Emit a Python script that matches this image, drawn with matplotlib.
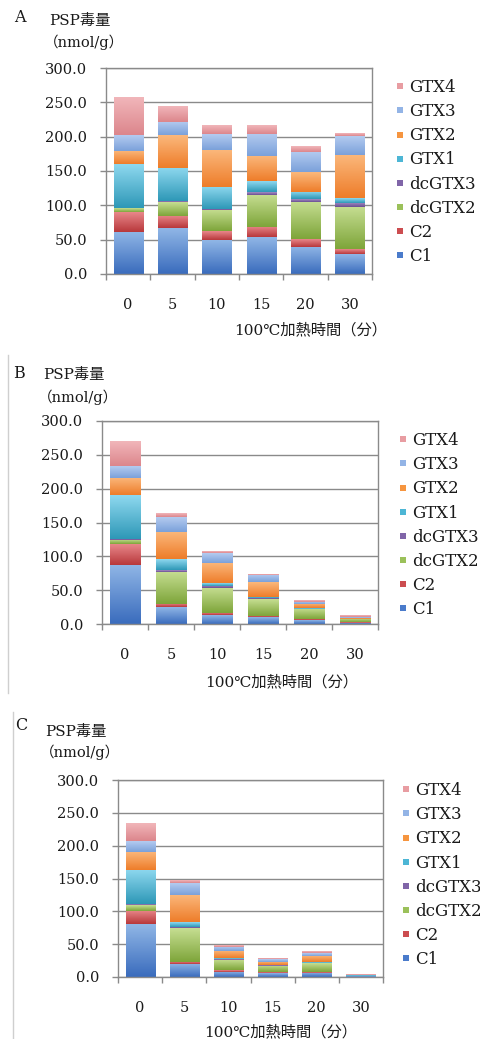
import matplotlib
matplotlib.use("Agg")
import matplotlib.pyplot as plt
import numpy as np
from matplotlib.colors import LinearSegmentedColormap, to_rgb
from matplotlib.lines import Line2D

plt.rcParams["font.family"] = ["DejaVu Serif", "Noto Sans CJK JP"]

# heating time categories (minutes at 100 °C)
times = ["0", "5", "10", "15", "20", "30"]
series = ["C1", "C2", "dcGTX2", "dcGTX3", "GTX1", "GTX2", "GTX3", "GTX4"]
y_ticks = [0, 50, 100, 150, 200, 250, 300]

# toxin amounts (nmol/g) for each component, panel A
a_c1 = [61.6, 66.4, 49.4, 53.3, 40.0, 29.0]
a_c2 = [29.0, 18.4, 12.6, 14.6, 11.0, 7.0]
a_dcgtx2 = [4.9, 19.9, 31.0, 47.1, 54.0, 62.0]
a_dcgtx3 = [1.0, 1.0, 1.5, 3.8, 4.0, 6.0]
a_gtx1 = [63.5, 48.3, 32.5, 16.0, 10.7, 6.5]
a_gtx2 = [19.0, 48.0, 54.0, 37.2, 28.3, 63.0]
a_gtx3 = [23.0, 20.0, 22.6, 32.6, 30.0, 27.5]
a_gtx4 = [54.0, 23.0, 13.1, 12.1, 8.6, 3.5]

# panel B
b_c1 = [87.2, 24.6, 13.3, 10.3, 5.4, 2.0]
b_c2 = [30.5, 5.0, 3.0, 2.0, 1.5, 0.5]
b_dcgtx2 = [6.3, 47.7, 37.4, 25.1, 14.8, 4.5]
b_dcgtx3 = [1.5, 2.5, 3.0, 1.5, 1.0, 0.4]
b_gtx1 = [64.5, 15.8, 3.3, 1.5, 0.5, 0.5]
b_gtx2 = [26.0, 40.9, 29.7, 21.6, 6.4, 1.5]
b_gtx3 = [17.6, 22.1, 14.7, 11.0, 3.4, 0.9]
b_gtx4 = [36.4, 4.9, 2.0, 1.4, 2.0, 2.5]

# panel C
c_c1 = [80.2, 19.8, 8.1, 5.6, 6.6, 1.0]
c_c2 = [19.8, 3.6, 2.1, 1.5, 1.5, 0.3]
c_dcgtx2 = [9.0, 51.2, 15.7, 9.7, 12.7, 0.5]
c_dcgtx3 = [1.5, 2.0, 1.0, 1.0, 1.0, 0.2]
c_gtx1 = [52.5, 6.9, 1.5, 1.0, 1.0, 0.3]
c_gtx2 = [28.0, 41.5, 11.6, 4.6, 9.2, 1.0]
c_gtx3 = [15.6, 17.6, 6.2, 3.5, 4.0, 0.4]
c_gtx4 = [26.4, 3.4, 2.5, 1.5, 2.0, 0.3]

panels = [
    ("A", [a_c1, a_c2, a_dcgtx2, a_dcgtx3, a_gtx1, a_gtx2, a_gtx3, a_gtx4]),
    ("B", [b_c1, b_c2, b_dcgtx2, b_dcgtx3, b_gtx1, b_gtx2, b_gtx3, b_gtx4]),
    ("C", [c_c1, c_c2, c_dcgtx2, c_dcgtx3, c_gtx1, c_gtx2, c_gtx3, c_gtx4]),
]

# (top, bottom) shades for each component's gradient fill
shades = {
    "C1": ("#90b6e6", "#3a6cbd"),
    "C2": ("#e8878a", "#b8383b"),
    "dcGTX2": ("#c6de92", "#7ea53a"),
    "dcGTX3": ("#a48fc4", "#6a4e93"),
    "GTX1": ("#8ed8ef", "#2e98b7"),
    "GTX2": ("#fbb87c", "#ee7d2a"),
    "GTX3": ("#b4cbf0", "#7ba1da"),
    "GTX4": ("#f1b6ba", "#dc868c"),
}
legend_colors = {
    "C1": "#4a7bcb", "C2": "#cc4d50", "dcGTX2": "#9bc15a", "dcGTX3": "#8065a8",
    "GTX1": "#4db6d5", "GTX2": "#f6953f", "GTX3": "#93b4e6", "GTX4": "#e89da2",
}

W, H = 480, 1039
fig = plt.figure(figsize=(W / 100, H / 100), dpi=100)


def fx(px):
    return px / W


def fy(px):
    return 1 - px / H


# layout in pixels: axes box, header, legend, x label
layout = {
    "A": dict(box=(106, 68, 372, 274), letter=(14, 17), head=(49, 21, 44, 42),
              leg=(395, 79), xlab=(311, 330)),
    "B": dict(box=(102, 421, 378, 624), letter=(13, 373), head=(43, 375, 38, 397),
              leg=(398, 432), xlab=(282, 682)),
    "C": dict(box=(118, 780, 383, 977), letter=(15, 725), head=(45, 732, 40, 752),
              leg=(401, 782), xlab=(281, 1032)),
}

grid_gray = "#8a8a8a"
text_color = "#1a1a1a"
xs = np.arange(len(times))

for name, values in panels:
    L = layout[name]
    x0, y0, x1, y1 = L["box"]
    ax = fig.add_axes([fx(x0), fy(y1), (x1 - x0) / W, (y1 - y0) / H])
    ax.set_xlim(-0.5, len(times) - 0.5)
    ax.set_ylim(0, 300)

    bottom = np.zeros(len(times))
    for s, vals in zip(series, values):
        bars = ax.bar(xs, vals, width=0.66, bottom=bottom, color="none",
                      linewidth=0, zorder=2)
        top_c, bot_c = shades[s]
        cmap = LinearSegmentedColormap.from_list(s, [to_rgb(bot_c), to_rgb(top_c)])
        grad = np.linspace(0, 1, 64).reshape(-1, 1)
        for r in bars:
            bx, by, bw, bh = r.get_x(), r.get_y(), r.get_width(), r.get_height()
            ax.imshow(grad, extent=[bx, bx + bw, by, by + bh], origin="lower",
                      cmap=cmap, aspect="auto", zorder=2, interpolation="bilinear")
        bottom = bottom + np.array(vals)
    ax.set_xlim(-0.5, len(times) - 0.5)
    ax.set_ylim(0, 300)
    ax.set_aspect("auto")

    ax.set_yticks(y_ticks)
    ax.set_yticklabels([f"{v:.1f}" for v in y_ticks])
    ax.yaxis.grid(True, color=grid_gray, linewidth=1.0, zorder=0)
    ax.set_axisbelow(True)
    ax.set_xticks(xs)
    ax.set_xticklabels(times)
    ax.set_xticks(np.arange(-0.5, len(times)), minor=True)
    ax.tick_params(axis="x", which="major", length=0, pad=17, labelsize=10.5,
                   labelcolor=text_color)
    ax.tick_params(axis="x", which="minor", length=4, width=1, color=grid_gray,
                   direction="out")
    ax.tick_params(axis="y", length=4.5, width=1, color=grid_gray, pad=9,
                   labelsize=10.5, labelcolor=text_color)
    for sp in ax.spines.values():
        sp.set_color(grid_gray)
        sp.set_linewidth(1.0)

    # panel header
    lx, ly = L["letter"]
    fig.text(fx(lx), fy(ly), name, fontsize=11.5, va="center", ha="left", color=text_color)
    hx, hy, ux, uy = L["head"]
    fig.text(fx(hx), fy(hy), "PSP毒量", fontsize=11, va="center", ha="left", color=text_color)
    fig.text(fx(ux), fy(uy), "（nmol/g）", fontsize=10.5, va="center", ha="left",
             color=text_color)

    # x axis title
    xlx, xly = L["xlab"]
    fig.text(fx(xlx), fy(xly), "100℃加熱時間（分）", fontsize=11, va="center",
             ha="center", color=text_color)

    # legend, listed from top component to bottom
    handles = [Line2D([], [], linestyle="none", marker="s", markersize=4.5,
                      markerfacecolor=legend_colors[s], markeredgewidth=0)
               for s in series[::-1]]
    lgx, lgy = L["leg"]
    fig.legend(handles, series[::-1], loc="upper left",
               bbox_to_anchor=(fx(lgx), fy(lgy)), bbox_transform=fig.transFigure,
               frameon=False, fontsize=12, handlelength=0.55, handletextpad=0.3,
               labelspacing=0.43, borderpad=0, borderaxespad=0, labelcolor=text_color)

# faint page edges at the left of the lower two panels
fig.add_artist(Line2D([fx(8), fx(8)], [fy(355), fy(693)], color="#cfcfcf", linewidth=1))
fig.add_artist(Line2D([fx(13), fx(13)], [fy(712), fy(1039)], color="#cfcfcf", linewidth=1))

fig.savefig("out.png", dpi=100, facecolor="white")
